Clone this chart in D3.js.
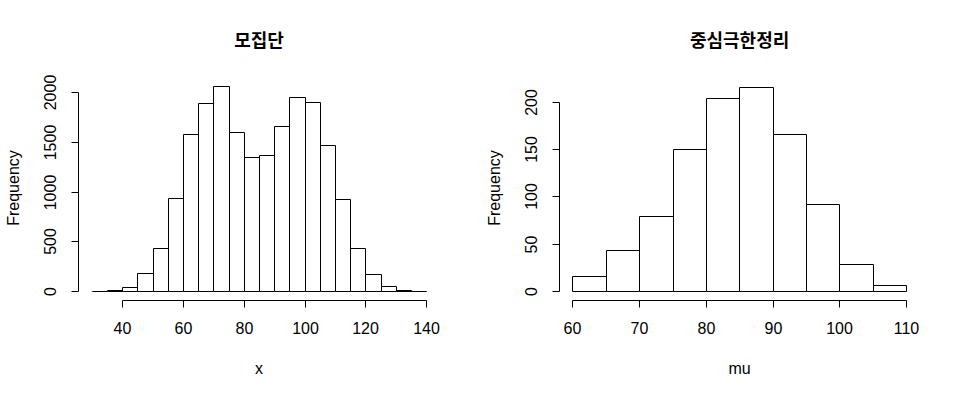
<!DOCTYPE html>
<html>
<head>
<meta charset="utf-8">
<script src="https://cdn.jsdelivr.net/npm/d3@7"></script>
<style>
  body { margin: 0; background: #fff; }
  svg text { font-family: "Liberation Sans", Arial, sans-serif; fill: #000; }
  .title { font-family: "Noto Sans CJK KR", sans-serif; font-weight: bold; font-size: 18px; }
</style>
</head>
<body>
<div id="chart"></div>
<script>
  // population histogram (x), bins of width 5 from 30 to 140
  var popBreaks = d3.range(30, 141, 5);
  var popCounts = [0, 8, 37, 178, 430, 936, 1577, 1888, 2060, 1597, 1345,
    1365, 1657, 1949, 1898, 1466, 922, 430, 168, 47, 10, 0];
  var popTicksX = [40, 60, 80, 100, 120, 140];
  var popTicksY = [0, 500, 1000, 1500, 2000];

  // sample means histogram (mu), bins of width 5 from 60 to 110
  var muBreaks = d3.range(60, 111, 5);
  var muCounts = [16, 43, 79, 150, 204, 216, 166, 92, 28, 6];
  var muTicksX = [60, 70, 80, 90, 100, 110];
  var muTicksY = [0, 50, 100, 150, 200];

  var width = 960, height = 398;

  var svg = d3.select('#chart').append('svg')
    .attr('width', width).attr('height', height);

  function drawHist(opt) {
    var g = svg.append('g');
    var x = d3.scaleLinear().domain(opt.xDomain).range(opt.xRange);
    var y = d3.scaleLinear().domain(opt.yDomain).range([291, opt.yTop]);

    var bins = opt.counts.map(function(c, i) {
      return { x0: opt.breaks[i], x1: opt.breaks[i + 1], n: c };
    });

    // bars as closed paths so empty bins still show their base line
    g.selectAll('path.bar').data(bins).enter().append('path')
      .attr('class', 'bar')
      .attr('d', function(d) {
        var l = Math.round(x(d.x0)) + 0.5, r = Math.round(x(d.x1)) + 0.5;
        var b = Math.round(y(0)) + 0.5, t = Math.round(y(d.n)) + 0.5;
        return 'M' + l + ',' + b + 'L' + l + ',' + t + 'L' + r + ',' + t + 'L' + r + ',' + b + 'Z';
      })
      .attr('fill', '#fff')
      .attr('stroke', '#000')
      .attr('stroke-width', 1);

    // x axis (R style: line between first and last tick)
    var ax = 300.5;
    var tx = opt.ticksX;
    g.append('line')
      .attr('x1', Math.round(x(tx[0])) + 0.5).attr('x2', Math.round(x(tx[tx.length - 1])) + 0.5)
      .attr('y1', ax).attr('y2', ax).attr('stroke', '#000');
    tx.forEach(function(t) {
      var px = Math.round(x(t)) + 0.5;
      g.append('line').attr('x1', px).attr('x2', px)
        .attr('y1', ax).attr('y2', ax + 7).attr('stroke', '#000');
      g.append('text').attr('x', px).attr('y', 334)
        .attr('text-anchor', 'middle').style('font-size', '16px').text(t);
    });

    // y axis
    var ay = Math.round(x(opt.xDomain[0]) - opt.pad) + 0.5;
    var ty = opt.ticksY;
    g.append('line')
      .attr('x1', ay).attr('x2', ay)
      .attr('y1', Math.round(y(ty[0])) + 0.5).attr('y2', Math.round(y(ty[ty.length - 1])) + 0.5)
      .attr('stroke', '#000');
    ty.forEach(function(t) {
      var py = Math.round(y(t)) + 0.5;
      g.append('line').attr('x1', ay - 7).attr('x2', ay)
        .attr('y1', py).attr('y2', py).attr('stroke', '#000');
      g.append('text')
        .attr('transform', 'translate(' + (ay - 23) + ',' + py + ') rotate(-90)')
        .attr('text-anchor', 'middle').style('font-size', '16px').text(t);
    });

    // labels
    var cx = (ay + x(opt.xDomain[1]) + opt.pad) / 2;
    g.append('text').attr('class', 'title')
      .attr('x', cx).attr('y', 47).attr('text-anchor', 'middle').text(opt.title);
    g.append('text').attr('x', cx).attr('y', 374)
      .attr('text-anchor', 'middle').style('font-size', '16px').text(opt.xlab);
    g.append('text')
      .attr('transform', 'translate(' + (ay - 60) + ',188) rotate(-90)')
      .attr('text-anchor', 'middle').style('font-size', '16px').text('Frequency');
  }

  drawHist({
    breaks: popBreaks, counts: popCounts,
    xDomain: [30, 140], xRange: [91.7, 426.3],
    yDomain: [0, 2000], yTop: 92.3,
    pad: 13.4,
    ticksX: popTicksX, ticksY: popTicksY,
    title: '모집단', xlab: 'x'
  });

  drawHist({
    breaks: muBreaks, counts: muCounts,
    xDomain: [60, 110], xRange: [572.3, 906.3],
    yDomain: [0, 200], yTop: 101.7,
    pad: 13.4,
    ticksX: muTicksX, ticksY: muTicksY,
    title: '중심극한정리', xlab: 'mu'
  });
</script>
</body>
</html>
